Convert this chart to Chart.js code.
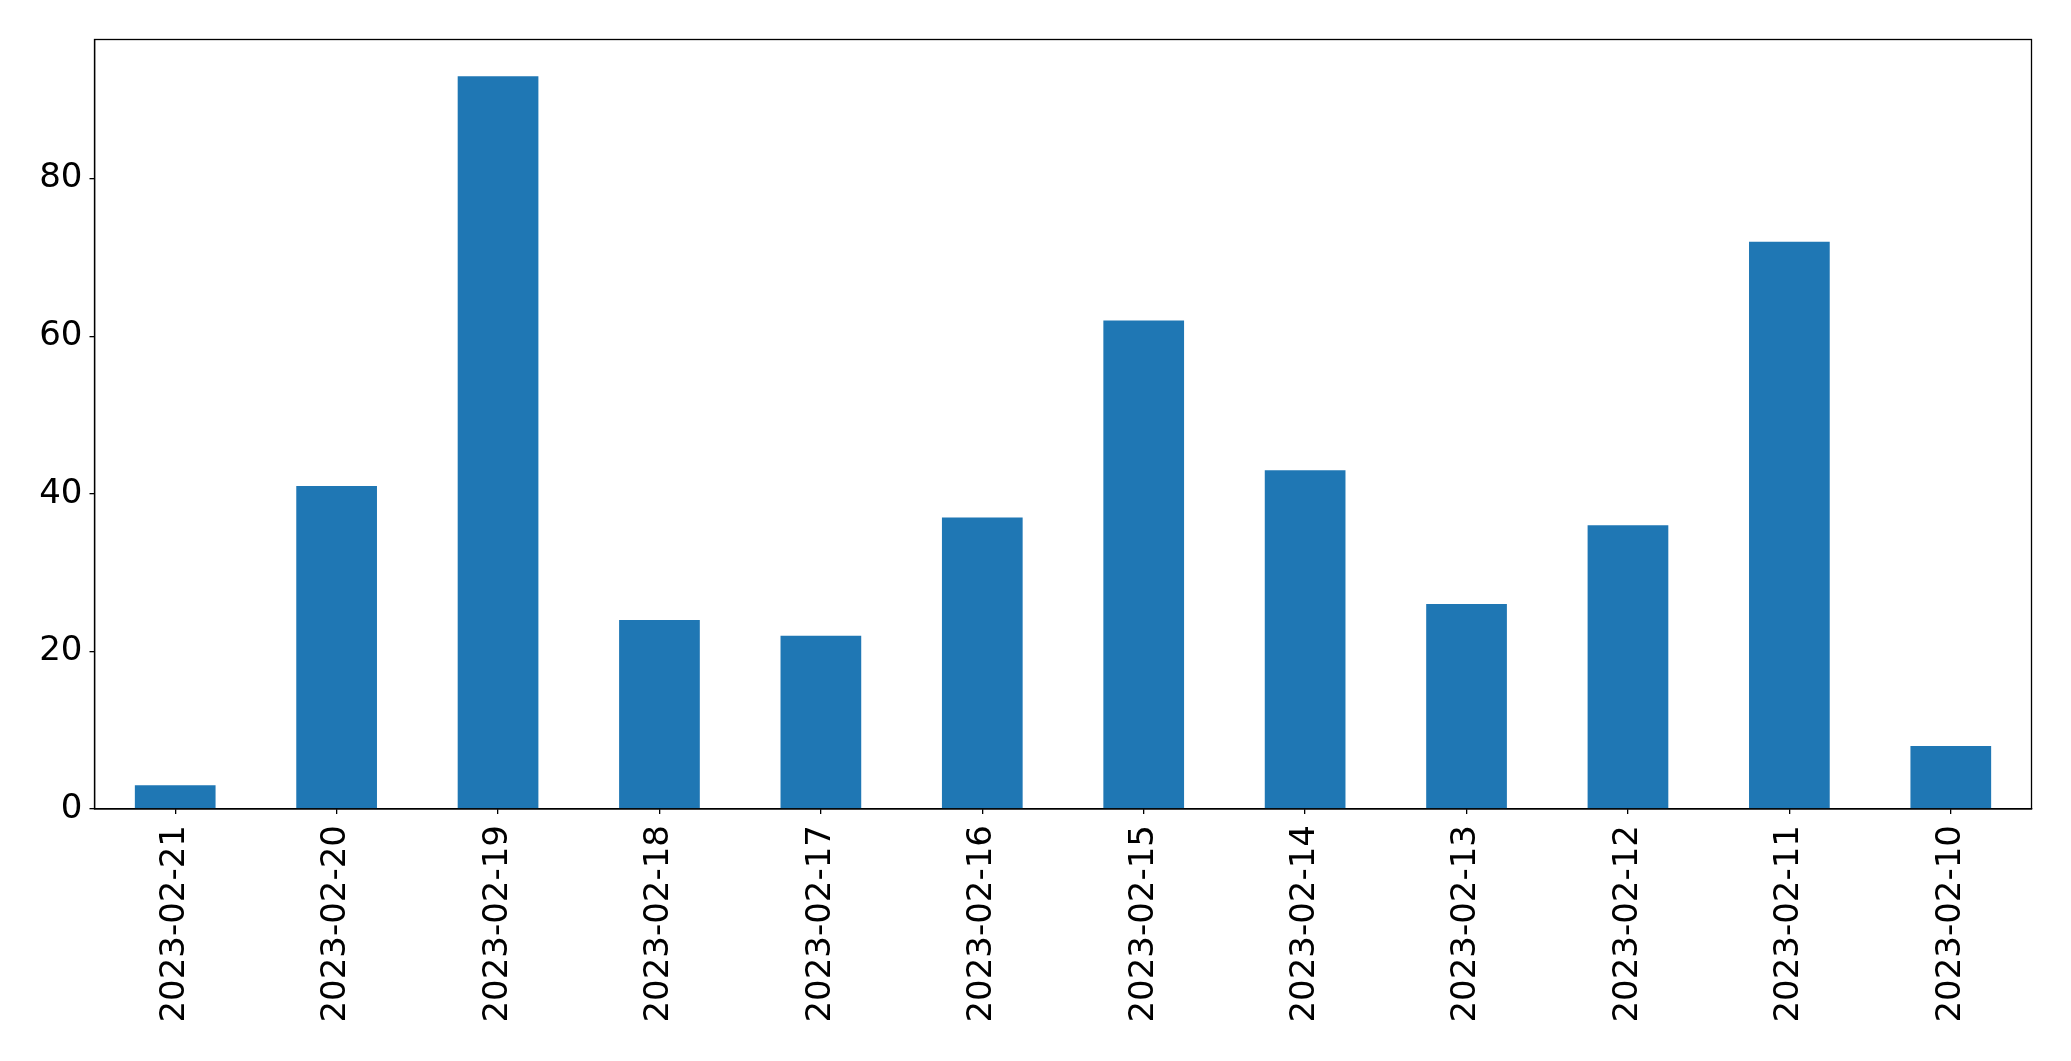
<!DOCTYPE html>
<html>
<head>
<meta charset="utf-8">
<script src="https://cdn.jsdelivr.net/npm/chart.js@4.4.0/dist/chart.umd.min.js"></script>
<style>
  body { margin: 0; background: #fff; }
  #wrap { width: 2071px; height: 1061px; }
</style>
</head>
<body>
<div id="wrap"><canvas id="myChart" width="2071" height="1061"></canvas></div>
<script>
var dates = ['2023-02-21', '2023-02-20', '2023-02-19', '2023-02-18', '2023-02-17', '2023-02-16',
             '2023-02-15', '2023-02-14', '2023-02-13', '2023-02-12', '2023-02-11', '2023-02-10'];
var counts = [3, 41, 93, 24, 22, 37, 62, 43, 26, 36, 72, 8];
var yTicks = [0, 20, 40, 60, 80];

// top and right spines like the matplotlib frame
var frame = {
    id: 'frame',
    afterDraw: function(chart) {
        var a = chart.chartArea, c = chart.ctx;
        c.save();
        c.strokeStyle = '#000';
        c.lineWidth = 1.3;
        c.strokeRect(a.left, a.top, a.right - a.left, a.bottom - a.top);
        c.restore();
    }
};

var ctx = document.getElementById('myChart').getContext('2d');
var myChart = new Chart(ctx, {
    type: 'bar',
    data: {
        labels: dates,
        datasets: [{
            data: counts,
            backgroundColor: '#1f77b4',
            borderWidth: 0,
            barPercentage: 0.5,
            categoryPercentage: 1.0
        }]
    },
    options: {
        responsive: false,
        animation: false,
        layout: { padding: { top: 39.5, right: 39.5, left: 0, bottom: 0 } },
        plugins: { legend: { display: false }, tooltip: { enabled: false } },
        scales: {
            x: {
                offset: true,
                grid: { display: true, offset: false, drawOnChartArea: false, drawTicks: true, tickLength: 5, color: '#000', lineWidth: 1.3 },
                border: { display: true, color: '#000', width: 1.3 },
                ticks: {
                    color: '#000',
                    font: { family: 'DejaVu Sans', size: 34 },
                    minRotation: 90, maxRotation: 90,
                    padding: 11,
                    autoSkip: false
                },
                afterFit: function(s) { s.height = 252; }
            },
            y: {
                min: 0,
                max: 97.65,
                grid: { display: true, drawOnChartArea: false, drawTicks: true, tickLength: 5, color: '#000', lineWidth: 1.3 },
                border: { display: true, color: '#000', width: 1.3 },
                ticks: {
                    color: '#000',
                    font: { family: 'DejaVu Sans', size: 34 },
                    stepSize: 20,
                    padding: 7
                },
                afterBuildTicks: function(s) {
                    s.ticks = yTicks.map(function(v) { return { value: v }; });
                },
                afterFit: function(s) { s.width = 94.5; }
            }
        }
    },
    plugins: [frame]
});
</script>
</body>
</html>
